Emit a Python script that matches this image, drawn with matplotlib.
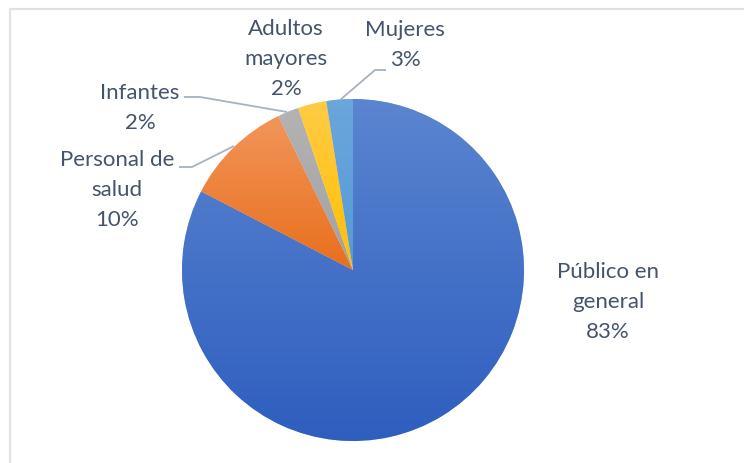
import matplotlib
matplotlib.use("Agg")
import matplotlib.pyplot as plt
import numpy as np
from matplotlib.colors import to_rgb, LinearSegmentedColormap

# ---- data ----
categories = ["Público en general", "Personal de salud", "Infantes", "Adultos mayores", "Mujeres"]
label_names = ["Público en\ngeneral", "Personal de\nsalud", "Infantes", "Adultos\nmayores", "Mujeres"]
values = [82.6, 10.2, 2.0, 2.7, 2.5]          # shares
pct_labels = ["83%", "10%", "2%", "2%", "3%"]  # labels as printed

# ---- style ----
W, H = 744, 464
top_colors = ["#5B85D0", "#F2955A", "#B3B3B3", "#FFCB45", "#6BA6DD"]
bot_colors = ["#2E5EBF", "#E86F1C", "#A2A2A2", "#FFC000", "#559AD6"]
text_color = "#44546A"
cx, cy, r = 353, H - 271, 171

# label centres (pixel coords from top)
label_pos = [(608, 302), (117, 190), (140, 108), (286, 59), (405, 45)]
leaders = {
    1: [(179, 168), (192, 168), (234, 147)],
    2: [(184, 98), (200, 98), (287, 113)],
    4: [(386, 71), (375, 71), (340, 101)],
}

plt.rcParams['font.family'] = ['Lato', 'DejaVu Sans']

fig = plt.figure(figsize=(W / 100, H / 100), dpi=100)
fig.patch.set_facecolor("white")
ax = fig.add_axes([0, 0, 1, 1])

wedges, _ = ax.pie(values, startangle=90, counterclock=False, center=(cx, cy), radius=r,
                   colors=bot_colors, wedgeprops=dict(edgecolor="white", linewidth=0.4))
ax.set_xlim(0, W)
ax.set_ylim(0, H)
ax.set_aspect("equal")
ax.axis("off")

for w, tc, bc in zip(wedges, top_colors, bot_colors):
    ext = w.get_path().get_extents()
    cmap = LinearSegmentedColormap.from_list("g", [to_rgb(bc), to_rgb(tc)])
    grad = np.linspace(0, 1, 256).reshape(-1, 1)
    im = ax.imshow(grad, cmap=cmap, origin="lower", aspect="auto",
                   extent=[ext.x0, ext.x1, ext.y0, ext.y1], zorder=w.get_zorder() + 0.1,
                   interpolation="bicubic")
    im.set_clip_path(w)
ax.set_xlim(0, W)
ax.set_ylim(0, H)

for i, (name, pct) in enumerate(zip(label_names, pct_labels)):
    x, y = label_pos[i]
    ax.text(x, H - y, f"{name}\n{pct}", ha="center", va="center", fontsize=16,
            color=text_color, linespacing=1.62, zorder=5)

for i, pts in leaders.items():
    xs = [p[0] for p in pts]
    ys = [H - p[1] for p in pts]
    ax.plot(xs, ys, color="#A6B2C2", lw=1.3, zorder=4, solid_capstyle="butt")

# chart border (extends beyond right/bottom edges)
ax.plot([9.5, 9.5, W + 5], [-5, H - 9.5, H - 9.5], color="#DDE2E8", lw=1.6, zorder=6, clip_on=False)

fig.savefig("out.png", dpi=100, facecolor="white")
